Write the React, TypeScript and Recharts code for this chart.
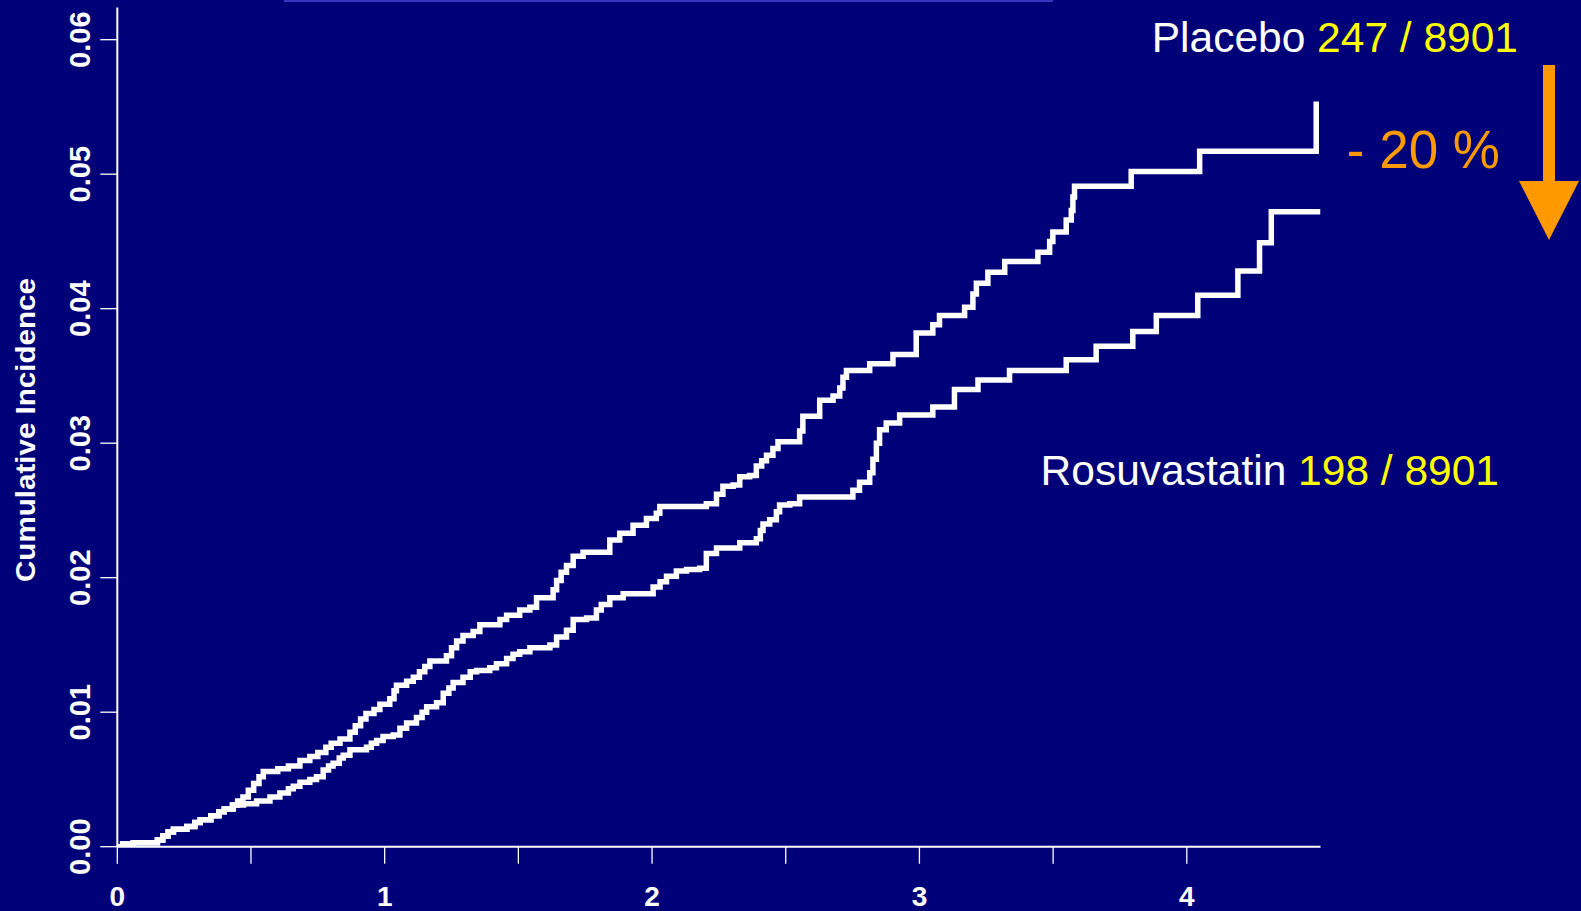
import React from 'react';
import { LineChart, Line, XAxis, YAxis } from 'recharts';

// ---- data ----
const placeboTime = [
  0, 0.02, 0.06, 0.15, 0.17, 0.19, 0.21, 0.26, 0.29, 0.31,
  0.35, 0.38, 0.4, 0.43, 0.45, 0.47, 0.49, 0.51, 0.53, 0.546,
  0.6, 0.64, 0.683, 0.72, 0.75, 0.78, 0.8, 0.833, 0.87, 0.89,
  0.91, 0.93, 0.96, 0.982, 1.019, 1.035, 1.044, 1.082, 1.107, 1.13,
  1.15, 1.169, 1.231, 1.25, 1.269, 1.293, 1.331, 1.356, 1.431, 1.456,
  1.505, 1.543, 1.568, 1.63, 1.643, 1.66, 1.68, 1.705, 1.742, 1.842,
  1.879, 1.929, 1.979, 2.016, 2.029, 2.203, 2.241, 2.265, 2.303, 2.328,
  2.365, 2.39, 2.41, 2.428, 2.452, 2.471, 2.552, 2.564, 2.627, 2.677,
  2.702, 2.714, 2.727, 2.814, 2.901, 2.988, 3.05, 3.075, 3.169, 3.2,
  3.213, 3.256, 3.319, 3.443, 3.487, 3.499, 3.549, 3.568, 3.574, 3.58,
  3.792, 4.048, 4.484,
];
const placeboRisk = [
  0, 0.0002, 0.0003, 0.0005, 0.0008, 0.0011, 0.0013, 0.0015, 0.0018, 0.002,
  0.0023, 0.0026, 0.0028, 0.0031, 0.0034, 0.0037, 0.0042, 0.0047, 0.0052, 0.0056,
  0.0058, 0.006, 0.0064, 0.0067, 0.007, 0.0074, 0.0077, 0.008, 0.0085, 0.009,
  0.0095, 0.0099, 0.0102, 0.0106, 0.011, 0.0116, 0.012, 0.0123, 0.0126, 0.013,
  0.0134, 0.0138, 0.0142, 0.0148, 0.0153, 0.0157, 0.016, 0.0165, 0.0169, 0.0172,
  0.0176, 0.0178, 0.0185, 0.0191, 0.0198, 0.0204, 0.0209, 0.0216, 0.0219, 0.0228,
  0.0233, 0.0239, 0.0244, 0.0248, 0.0253, 0.0255, 0.0262, 0.0268, 0.0269, 0.0275,
  0.0276, 0.0283, 0.0287, 0.0291, 0.0296, 0.0301, 0.0309, 0.032, 0.0332, 0.0335,
  0.0341, 0.0349, 0.0354, 0.0359, 0.0366, 0.0382, 0.0388, 0.0395, 0.0401, 0.0411,
  0.0419, 0.0427, 0.0435, 0.0442, 0.045, 0.0457, 0.0466, 0.0473, 0.0483, 0.0491,
  0.0502, 0.0517, 0.0554,
];

const rosuvastatinTime = [
  0, 0.02, 0.06, 0.15, 0.17, 0.19, 0.21, 0.26, 0.29, 0.31,
  0.35, 0.38, 0.4, 0.434, 0.472, 0.521, 0.571, 0.608, 0.64, 0.658,
  0.683, 0.72, 0.745, 0.77, 0.79, 0.807, 0.83, 0.845, 0.87, 0.932,
  0.95, 0.97, 0.994, 1.032, 1.057, 1.082, 1.119, 1.14, 1.157, 1.194,
  1.219, 1.24, 1.256, 1.293, 1.32, 1.344, 1.393, 1.418, 1.456, 1.48,
  1.505, 1.543, 1.618, 1.643, 1.68, 1.705, 1.755, 1.792, 1.81, 1.842,
  1.892, 2.004, 2.03, 2.054, 2.091, 2.129, 2.178, 2.203, 2.241, 2.328,
  2.39, 2.405, 2.415, 2.44, 2.465, 2.477, 2.515, 2.552, 2.751, 2.776,
  2.814, 2.826, 2.839, 2.851, 2.876, 2.926, 3.05, 3.131, 3.219, 3.337,
  3.549, 3.661, 3.798, 3.886, 4.041, 4.191, 4.272, 4.316, 4.5,
];
const rosuvastatinRisk = [
  0, 0.0002, 0.0003, 0.0005, 0.0008, 0.0011, 0.0013, 0.0015, 0.0018, 0.002,
  0.0023, 0.0026, 0.0028, 0.0031, 0.0032, 0.0034, 0.0037, 0.004, 0.0043, 0.0045,
  0.0048, 0.005, 0.0052, 0.0057, 0.006, 0.0062, 0.0066, 0.0068, 0.0072, 0.0074,
  0.0077, 0.0079, 0.0082, 0.0083, 0.0088, 0.0092, 0.0096, 0.01, 0.0104, 0.0107,
  0.0114, 0.0118, 0.0122, 0.0126, 0.013, 0.0131, 0.0133, 0.0136, 0.014, 0.0143,
  0.0145, 0.0148, 0.015, 0.0156, 0.0161, 0.0169, 0.017, 0.0176, 0.018, 0.0185,
  0.0188, 0.0193, 0.0197, 0.0201, 0.0205, 0.0206, 0.0207, 0.0218, 0.0222, 0.0226,
  0.0229, 0.0235, 0.024, 0.0243, 0.0249, 0.0254, 0.0255, 0.026, 0.0265, 0.0271,
  0.0278, 0.0288, 0.03, 0.031, 0.0315, 0.0321, 0.0327, 0.034, 0.0347, 0.0354,
  0.0362, 0.0372, 0.0383, 0.0395, 0.041, 0.0428, 0.0449, 0.0472, 0.0472,
];

const xTicks = [0, 0.5, 1, 1.5, 2, 2.5, 3, 3.5, 4];
const xTickLabels = ['0', '', '1', '', '2', '', '3', '', '4'];
const yTicks = [0, 0.01, 0.02, 0.03, 0.04, 0.05, 0.06];
const yTickLabels = ['0.00', '0.01', '0.02', '0.03', '0.04', '0.05', '0.06'];

const yAxisTitle = 'Cumulative Incidence';
const placeboLabel = 'Placebo';
const placeboCount = '247 / 8901';
const rosuvastatinLabel = 'Rosuvastatin';
const rosuvastatinCount = '198 / 8901';
const reductionLabel = '- 20 %';

// ---- build series ----
const toSeries = (ts: number[], vs: number[]) => ts.map((t, i) => ({ t, v: vs[i] }));
const placeboData = toSeries(placeboTime, placeboRisk);
const rosuvastatinData = toSeries(rosuvastatinTime, rosuvastatinRisk);

const W = 1581;
const H = 911;
const BG = '#000078';
const FONT = '"Liberation Sans", Arial, Helvetica, sans-serif';
const ORANGE = '#ff9900';
const YELLOW = '#ffff00';

function XTick(props: any) {
  const { x, y, payload } = props;
  const i = xTicks.findIndex((v) => Math.abs(v - payload.value) < 1e-9);
  const label = i >= 0 ? xTickLabels[i] : '';
  if (!label) return <g />;
  return (
    <text x={x} y={y + 40} textAnchor="middle" fill="#ffffff" fontSize={28} fontWeight="bold" fontFamily={FONT}>
      {label}
    </text>
  );
}

function YTick(props: any) {
  const { x, y, payload } = props;
  const i = yTicks.findIndex((v) => Math.abs(v - payload.value) < 1e-9);
  const label = i >= 0 ? yTickLabels[i] : '';
  const bx = x - 8;
  return (
    <text
      x={bx}
      y={y}
      transform={`rotate(-90 ${bx} ${y})`}
      textAnchor="middle"
      fill="#ffffff"
      fontSize={29}
      fontWeight="bold"
      fontFamily={FONT}
    >
      {label}
    </text>
  );
}

export default function App() {
  return (
    <div style={{ position: 'relative', width: W, height: H, background: BG, overflow: 'hidden' }}>
      <style>{'html,body{margin:0;padding:0;background:' + BG + ';}'}</style>
      <LineChart width={W} height={H} margin={{ top: 7.4, right: 260.5, bottom: 0, left: 0 }}>
        <XAxis
          dataKey="t"
          type="number"
          domain={[0, 4.5]}
          ticks={xTicks}
          interval={0}
          height={64.3}
          tickSize={17}
          tickMargin={2}
          tickLine={{ stroke: '#ffffff', strokeWidth: 1.3 }}
          axisLine={{ stroke: '#ffffff', strokeWidth: 2 }}
          tick={(p: any) => <XTick {...p} />}
          allowDataOverflow
        />
        <YAxis
          type="number"
          domain={[0, 0.0624]}
          ticks={yTicks}
          interval={0}
          width={117.3}
          tickSize={17}
          tickMargin={2}
          tickLine={{ stroke: '#ffffff', strokeWidth: 1.3 }}
          axisLine={{ stroke: '#ffffff', strokeWidth: 2 }}
          tick={(p: any) => <YTick {...p} />}
          allowDataOverflow
        />
        <Line
          data={rosuvastatinData}
          dataKey="v"
          type="stepAfter"
          stroke="#ffffff"
          strokeWidth={5.5}
          dot={false}
          activeDot={false}
          isAnimationActive={false}
        />
        <Line
          data={placeboData}
          dataKey="v"
          type="stepAfter"
          stroke="#ffffff"
          strokeWidth={5.5}
          dot={false}
          activeDot={false}
          isAnimationActive={false}
        />
      </LineChart>
      <svg width={W} height={H} style={{ position: 'absolute', left: 0, top: 0, pointerEvents: 'none' }}>
        <rect x={284} y={0} width={769} height={2} fill="#3535c0" />
        <text
          x={35}
          y={430}
          transform="rotate(-90 35 430)"
          textAnchor="middle"
          fill="#ffffff"
          fontSize={27}
          fontWeight="bold"
          fontFamily={FONT}
          textLength={304}
          lengthAdjust="spacingAndGlyphs"
        >
          {yAxisTitle}
        </text>
        <text x={1518} y={52} textAnchor="end" fontSize={42.5} fontFamily={FONT}>
          <tspan fill="#ffffff">{placeboLabel} </tspan>
          <tspan fill={YELLOW}>{placeboCount}</tspan>
        </text>
        <text x={1499} y={485} textAnchor="end" fontSize={42.5} fontFamily={FONT}>
          <tspan fill="#ffffff">{rosuvastatinLabel} </tspan>
          <tspan fill={YELLOW}>{rosuvastatinCount}</tspan>
        </text>
        <text x={1500} y={168} textAnchor="end" fontSize={53} fill={ORANGE} fontFamily={FONT}>
          {reductionLabel}
        </text>
        <rect x={1543} y={65} width={12} height={117} fill={ORANGE} />
        <polygon points="1519,181 1579,181 1549,240" fill={ORANGE} />
      </svg>
    </div>
  );
}
